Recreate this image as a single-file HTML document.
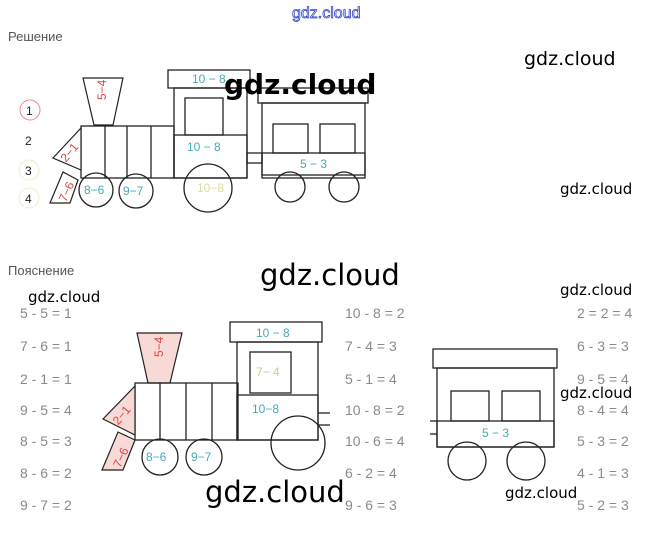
<!DOCTYPE html>
<html><head><meta charset="utf-8"><style>
html,body{margin:0;padding:0;background:#fff;width:660px;height:547px;overflow:hidden}
svg{display:block}
.eq{font-family:"Liberation Sans",sans-serif;font-size:14px;fill:#8a8a8a}
.wm{font-family:"DejaVu Sans","Liberation Sans",sans-serif;fill:#000}
.l{stroke:#222;stroke-width:1.3;fill:none}
.t{font-family:"Liberation Sans",sans-serif;font-size:12px}
</style></head><body>
<svg width="660" height="547" viewBox="0 0 660 547" xmlns="http://www.w3.org/2000/svg">
<text x="292" y="18" font-family="Liberation Sans,sans-serif" font-size="16" fill="none" stroke="#3344cc" stroke-width="0.8">gdz.cloud</text>
<text x="8" y="41" font-family="Liberation Sans,sans-serif" font-size="13" fill="#555">Решение</text>
<text x="8" y="275" font-family="Liberation Sans,sans-serif" font-size="13" fill="#555">Пояснение</text>

<!-- legend -->
<circle cx="30" cy="110" r="10" fill="none" stroke="#e88" stroke-width="1"/>
<text x="26" y="115" class="t" fill="#222">1</text>
<text x="25" y="145" class="t" fill="#222">2</text>
<circle cx="29" cy="170" r="10" fill="none" stroke="#eec" stroke-width="1"/>
<text x="25" y="175" class="t" fill="#222">3</text>
<circle cx="29" cy="198" r="10" fill="none" stroke="#eec" stroke-width="1"/>
<text x="25" y="203" class="t" fill="#222">4</text>

<!-- top train -->
<g>
<polygon points="83,78 123,78 113,125 94,125" fill="#fff" stroke="#222" stroke-width="1.2"/>
<text x="103" y="103" class="t" fill="#d44" transform="rotate(-90 103 100)">5−4</text>
<rect x="81" y="126" width="93" height="52" fill="#fdfde8" class="l"/>
<line x1="105" y1="126" x2="105" y2="178" class="l"/><line x1="127" y1="126" x2="127" y2="178" class="l"/><line x1="151" y1="126" x2="151" y2="178" class="l"/>
<polygon points="53,158 81,128 81,170" fill="#fff" stroke="#222" stroke-width="1.2"/>
<text x="60" y="160" class="t" fill="#d44" transform="rotate(-50 66 155)">2−1</text>
<polygon points="50,203 63,172 78,180 70,203" fill="#fff" stroke="#222" stroke-width="1.2"/>
<text x="54" y="200" class="t" fill="#d44" transform="rotate(-65 62 192)">7−6</text>
<rect x="168" y="70" width="82" height="18" fill="#fff" class="l"/>
<text x="192" y="83" class="t" fill="#4ab">10 − 8</text>
<rect x="174" y="88" width="73" height="90" fill="#fff" class="l"/>
<rect x="185" y="98" width="38" height="37" fill="#fdfde8" class="l"/>
<rect x="174" y="135" width="73" height="43" fill="#eef6fa" class="l"/>
<text x="187" y="151" class="t" fill="#4ab">10 − 8</text>
<circle cx="208" cy="188" r="24" fill="#fff" class="l"/>
<text x="197" y="192" class="t" fill="#dd9">10−8</text>
<circle cx="96" cy="190" r="17" fill="#eef6fa" class="l"/>
<text x="84" y="194" class="t" fill="#4ab">8−6</text>
<circle cx="136" cy="191" r="17" fill="#fff" class="l"/>
<text x="123" y="195" class="t" fill="#4ab">9−7</text>
<rect x="247" y="153" width="15" height="10" fill="#fff" class="l"/>
<rect x="258" y="88" width="110" height="15" fill="#fff" class="l"/>
<rect x="262" y="103" width="103" height="75" fill="#fff" class="l"/>
<rect x="273" y="124" width="35" height="29" fill="#fdfde8" class="l"/>
<rect x="320" y="124" width="35" height="29" fill="#fdfde8" class="l"/>
<rect x="262" y="153" width="103" height="22" fill="#eef6fa" class="l"/>
<text x="300" y="168" class="t" fill="#4ab">5 − 3</text>
<circle cx="290" cy="187" r="15" fill="#fff" class="l"/>
<circle cx="344" cy="187" r="15" fill="#fff" class="l"/>
</g>

<!-- bottom train -->
<g>
<polygon points="137,333 182,333 170,383 148,383" fill="#f7d9d6" stroke="#222" stroke-width="1.2"/>
<text x="160" y="360" class="t" fill="#d44" transform="rotate(-90 160 357)">5−4</text>
<rect x="135" y="383" width="103" height="57" fill="#fdfde8" class="l"/>
<line x1="160" y1="383" x2="160" y2="440" class="l"/><line x1="186" y1="383" x2="186" y2="440" class="l"/><line x1="212" y1="383" x2="212" y2="440" class="l"/>
<polygon points="103,419 135,386 135,435" fill="#f7d9d6" stroke="#222" stroke-width="1.2"/>
<text x="110" y="422" class="t" fill="#d44" transform="rotate(-50 118 415)">2−1</text>
<polygon points="102,470 118,432 135,440 123,470" fill="#f7d9d6" stroke="#222" stroke-width="1.2"/>
<text x="106" y="466" class="t" fill="#d44" transform="rotate(-65 115 456)">7−6</text>
<rect x="230" y="322" width="92" height="20" fill="#fff" class="l"/>
<text x="256" y="337" class="t" fill="#4ab">10 − 8</text>
<rect x="237" y="342" width="81" height="98" fill="#fff" class="l"/>
<rect x="250" y="352" width="41" height="41" fill="#fdfde8" class="l"/>
<text x="256" y="376" class="t" fill="#cc8">7− 4</text>
<rect x="237" y="395" width="81" height="45" fill="#eef6fa" class="l"/>
<text x="252" y="413" class="t" fill="#4ab">10−8</text>
<line x1="318" y1="413" x2="330" y2="413" class="l"/><line x1="318" y1="425" x2="330" y2="425" class="l"/>
<circle cx="298" cy="443" r="27" fill="#fff" class="l"/>
<circle cx="160" cy="457" r="18" fill="#dcecf4" class="l"/>
<text x="146" y="461" class="t" fill="#4ab">8−6</text>
<circle cx="204" cy="457" r="18" fill="#fff" class="l"/>
<text x="191" y="461" class="t" fill="#4ab">9−7</text>
<rect x="433" y="349" width="124" height="19" fill="#fdfde8" class="l"/>
<rect x="437" y="368" width="117" height="79" fill="#fff" class="l"/>
<rect x="451" y="391" width="38" height="30" fill="#fdfde8" class="l"/>
<rect x="502" y="391" width="38" height="30" fill="#fdfde8" class="l"/>
<rect x="437" y="421" width="117" height="26" fill="#eef6fa" class="l"/>
<text x="482" y="437" class="t" fill="#4ab">5 − 3</text>
<line x1="430" y1="421" x2="437" y2="421" class="l"/><line x1="430" y1="434" x2="437" y2="434" class="l"/>
<circle cx="467" cy="461" r="19" fill="#fff" class="l"/>
<circle cx="526" cy="461" r="19" fill="#fff" class="l"/>
</g>

<!-- equations -->
<g class="eq">
<text x="20" y="318">5 - 5 = 1</text><text x="20" y="351">7 - 6 = 1</text><text x="20" y="384">2 - 1 = 1</text><text x="20" y="415">9 - 5 = 4</text><text x="20" y="446">8 - 5 = 3</text><text x="20" y="478">8 - 6 = 2</text><text x="20" y="510">9 - 7 = 2</text>
<text x="345" y="318">10 - 8 = 2</text><text x="345" y="351">7 - 4 = 3</text><text x="345" y="384">5 - 1 = 4</text><text x="345" y="415">10 - 8 = 2</text><text x="345" y="446">10 - 6 = 4</text><text x="345" y="478">6 - 2 = 4</text><text x="345" y="510">9 - 6 = 3</text>
<text x="577" y="318">2 = 2 = 4</text><text x="577" y="351">6 - 3 = 3</text><text x="577" y="384">9 - 5 = 4</text><text x="577" y="415">8 - 4 = 4</text><text x="577" y="446">5 - 3 = 2</text><text x="577" y="478">4 - 1 = 3</text><text x="577" y="510">5 - 2 = 3</text>
</g>

<!-- watermarks -->
<g class="wm">
<text x="224" y="94" font-size="28" font-weight="bold">gdz.cloud</text>
<text x="524" y="65" font-size="19">gdz.cloud</text>
<text x="560" y="194" font-size="15">gdz.cloud</text>
<text x="260" y="285" font-size="29">gdz.cloud</text>
<text x="28" y="302" font-size="15">gdz.cloud</text>
<text x="560" y="295" font-size="15">gdz.cloud</text>
<text x="560" y="398" font-size="15">gdz.cloud</text>
<text x="205" y="502" font-size="29">gdz.cloud</text>
<text x="505" y="498" font-size="15">gdz.cloud</text>
</g>
</svg>
</body></html>
